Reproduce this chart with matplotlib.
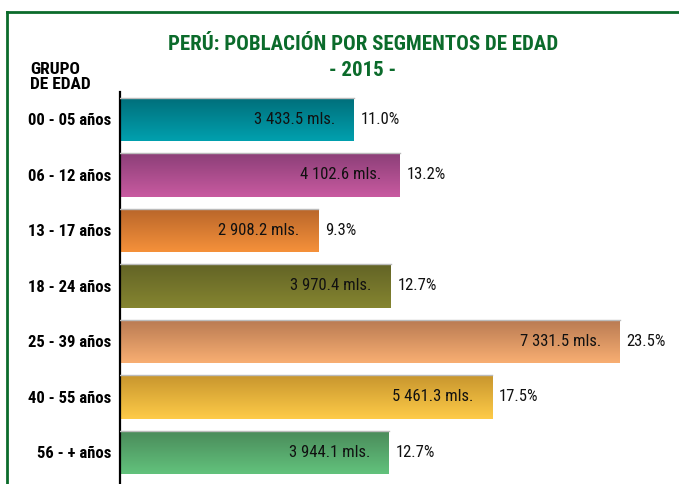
import numpy as np
import matplotlib
matplotlib.use("Agg")
import matplotlib.pyplot as plt
from matplotlib.colors import LinearSegmentedColormap

plt.rcParams['font.family'] = ['Roboto Condensed', 'DejaVu Sans']

grupos = ["00 - 05 años", "06 - 12 años", "13 - 17 años", "18 - 24 años",
          "25 - 39 años", "40 - 55 años", "56 - + años"]
poblacion = [3433.5, 4102.6, 2908.2, 3970.4, 7331.5, 5461.3, 3944.1]
porcentaje = [11.0, 13.2, 9.3, 12.7, 23.5, 17.5, 12.7]
etiquetas_valor = ["3 433.5 mls.", "4 102.6 mls.", "2 908.2 mls.", "3 970.4 mls.",
                   "7 331.5 mls.", "5 461.3 mls.", "3 944.1 mls."]

# color arriba / color abajo de cada barra (degradado)
colores_arriba = ["#006e7a", "#8c3f78", "#b8652a", "#636426", "#b87a52", "#c8962e", "#4a8a5a"]
colores_abajo = ["#00a0ae", "#c85aa0", "#f5913a", "#858530", "#f8ae72", "#fecb48", "#62c27c"]

VERDE = "#0b6b2b"
W, H = 679, 484

fig = plt.figure(figsize=(W / 100, H / 100), dpi=100)
ax = fig.add_axes([120 / W, 0, (W - 120) / W, (H - 91.75) / H])

y = np.arange(len(grupos))
bars = ax.barh(y, poblacion, height=0.78, color="none", edgecolor="none")

grad = np.linspace(0, 1, 64).reshape(-1, 1)
for i, b in enumerate(bars):
    cmap = LinearSegmentedColormap.from_list("g%d" % i, [colores_arriba[i], colores_abajo[i]])
    x0, y0 = b.get_x(), b.get_y()
    w, h = b.get_width(), b.get_height()
    im = ax.imshow(grad, cmap=cmap, aspect="auto", extent=[x0, x0 + w, y0 + h, y0],
                   zorder=2, interpolation="bilinear")
    im.set_clip_path(b)
    ax.plot([x0, x0 + w], [y0, y0], color="#bbbbbb", lw=1, zorder=3)
    ax.annotate(etiquetas_valor[i], (x0 + w, y[i]), xytext=(-13.5, 0), textcoords="offset points",
                ha="right", va="center", fontsize=12, color="#111111", zorder=4)
    ax.annotate("%.1f%%" % porcentaje[i], (x0 + w, y[i]), xytext=(5, 0),
                textcoords="offset points", ha="left", va="center", fontsize=12,
                color="#111111", zorder=4)

ax.set_xlim(0, 559 / 0.06815)
ax.set_ylim(6.568, -0.5)
ax.set_yticks(y)
ax.set_yticklabels(grupos, fontsize=12, fontweight="bold")
ax.tick_params(axis="y", length=0, pad=6)
ax.set_xticks([])
for s in ["top", "right", "bottom"]:
    ax.spines[s].set_visible(False)
ax.spines["left"].set_linewidth(1.6)
ax.spines["left"].set_color("black")
ax.set_facecolor("none")

# titulo
fig.text(363 / W, 1 - 44 / H, "PERÚ: POBLACIÓN POR SEGMENTOS DE EDAD", ha="center",
         va="center", fontsize=15, fontweight="bold", color=VERDE)
fig.text(363 / W, 1 - 70 / H, "- 2015 -", ha="center", va="center", fontsize=15,
         fontweight="bold", color=VERDE)
fig.text(30 / W, 1 - 77 / H, "GRUPO\nDE EDAD", ha="left", va="center", fontsize=12.5,
         fontweight="bold", color="black", linespacing=1.0)

# marco verde
fig.add_artist(plt.Line2D([7 / W, 1], [1 - 12 / H, 1 - 12 / H], color=VERDE, lw=2))
fig.add_artist(plt.Line2D([7 / W, 7 / W], [0, 1 - 12 / H], color=VERDE, lw=2))

fig.savefig("out.png", dpi=100)
